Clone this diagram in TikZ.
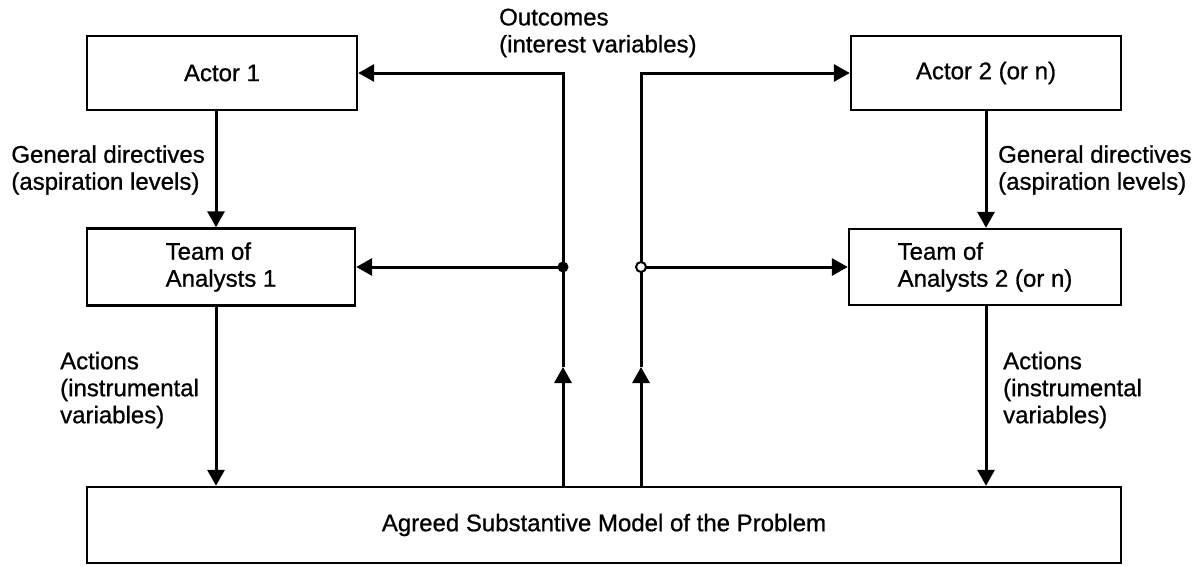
\documentclass[tikz,border=0pt]{standalone}
\usepackage{fontspec}
\setmainfont{Liberation Sans}[FakeBold=0.8]
\usetikzlibrary{arrows.meta}
\begin{document}
\begin{tikzpicture}[x=1pt,y=-1pt,
  txt/.style={font=\fontsize{24}{27}\selectfont},
  box/.style={txt, draw, rectangle, line width=2.4pt, inner sep=0pt, align=left},
  lbl/.style={txt, inner sep=0pt, align=left},
  wire/.style={line width=3pt},
  arr/.style={wire, -{Triangle[length=16pt,width=17pt]}},
]
\useasboundingbox (0,0) rectangle (1201,566);

% boxes
\node[box, minimum width=270pt, minimum height=74pt] (actor1) at (222,73) {Actor 1};
\node[box, minimum width=268pt, minimum height=77pt] (team1) at (221,267) {Team of\\Analysts 1};
\node[box, minimum width=270pt, minimum height=74pt] (actor2) at (986,73) {Actor 2 (or n)};
\node[box, minimum width=272pt, minimum height=76pt] (team2) at (985,267) {Team of\\Analysts 2 (or n)};
\node[box, minimum width=1034pt, minimum height=76pt] (model) at (604,525) {Agreed Substantive Model of the Problem};

% connector labels
\node[lbl, anchor=east] (gdL) at (205,170) {General directives\\(aspiration levels)};
\node[lbl, anchor=west] (gdR) at (998,170) {General directives\\(aspiration levels)};
\node[lbl, anchor=west] (outc) at (499,33) {Outcomes\\(interest variables)};
\node[lbl, anchor=west] (actL) at (60,390) {Actions\\(instrumental\\variables)};
\node[lbl, anchor=west] (actR) at (1003,390) {Actions\\(instrumental\\variables)};

% downward flows
\coordinate (xL) at (216,0);
\coordinate (xR) at (986,0);
\draw[arr] (actor1.south -| xL) -- (team1.north -| xL);
\draw[arr] (team1.south -| xL) -- (model.north -| xL);
\draw[arr] (actor2.south -| xR) -- (team2.north -| xR);
\draw[arr] (team2.south -| xR) -- (model.north -| xR);

% outcome feedback, left side
\coordinate (midL) at (563,367);
\coordinate (dotL) at (563,267);
\coordinate (topL) at (563,73);
\draw[arr] (model.north -| midL) -- (midL);
\draw[arr] (midL) -- (topL) -- (actor1.east |- topL);
\draw[arr] (dotL) -- (team1.east |- dotL);
\fill (dotL) circle (5.5pt);

% outcome feedback, right side
\coordinate (midR) at (641,367);
\coordinate (dotR) at (641,267);
\coordinate (topR) at (641,73);
\draw[arr] (model.north -| midR) -- (midR);
\draw[arr] (midR) -- (topR) -- (actor2.west |- topR);
\draw[arr] (dotR) -- (team2.west |- dotR);
\draw[fill=white, line width=2pt] (dotR) circle (5pt);
\end{tikzpicture}
\end{document}
